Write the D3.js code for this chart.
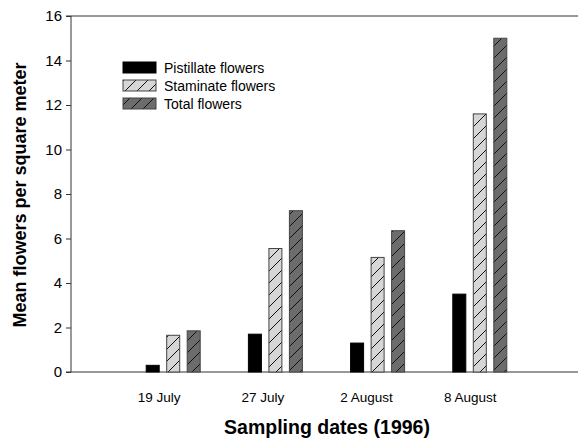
<!DOCTYPE html>
<html>
<head>
<meta charset="utf-8">
<script src="https://cdn.jsdelivr.net/npm/d3@7"></script>
<style>
  body { margin: 0; background: #fff; }
  text { font-family: Arial, "Liberation Sans", sans-serif; fill: #000; }
</style>
</head>
<body>
<div id="chart"></div>
<script>
// data
var dates = ["19 July", "27 July", "2 August", "8 August"];
var pistillate = [0.3, 1.7, 1.3, 3.5];
var staminate = [1.65, 5.55, 5.15, 11.6];
var total = [1.85, 7.25, 6.35, 15.0];
var seriesNames = ["Pistillate flowers", "Staminate flowers", "Total flowers"];
var yTicks = [0, 2, 4, 6, 8, 10, 12, 14, 16];

var svgWidth = 578;
var svgHeight = 438;

var svg = d3.select("#chart")
  .append("svg")
  .attr("width", svgWidth)
  .attr("height", svgHeight);

// hatching patterns
var defs = svg.append("defs");
function hatch(id, fill) {
  var p = defs.append("pattern")
    .attr("id", id)
    .attr("patternUnits", "userSpaceOnUse")
    .attr("width", 12)
    .attr("height", 12);
  p.append("rect").attr("width", 12).attr("height", 12).attr("fill", fill);
  p.append("path")
    .attr("d", "M-1,13 L13,-1 M-3,3 L3,-3 M9,15 L15,9")
    .attr("stroke", "#111")
    .attr("stroke-width", 1);
}
hatch("hatchLight", "#d6d6d6");
hatch("hatchDark", "#6c6c6c");

var fills = ["#000", "url(#hatchLight)", "url(#hatchDark)"];

// scales
var x = d3.scaleLinear().domain([0, 5]).range([71, 582]);
var y = d3.scaleLinear().domain([0, 16]).range([372, 16]);

var barW = 13;
var gap = 20.5;

// y axis
var yAxis = d3.axisLeft(y).tickValues(yTicks).tickSize(5).tickPadding(4);
var gy = svg.append("g")
  .attr("transform", "translate(71,0)")
  .attr("font-size", 15)
  .call(yAxis);
gy.select(".domain").attr("stroke", "#333").attr("d", "M-5,16H0V372H-5");
gy.selectAll(".tick line").attr("stroke", "#333");
gy.selectAll(".tick text").style("font-size", "15px").attr("fill", "#000");

// top line and bottom axis line
svg.append("line")
  .attr("x1", 71).attr("x2", svgWidth)
  .attr("y1", y(16)).attr("y2", y(16))
  .attr("stroke", "#333");
svg.append("line")
  .attr("x1", 71).attr("x2", svgWidth)
  .attr("y1", y(0)).attr("y2", y(0))
  .attr("stroke", "#333");

// bars
var allSeries = [pistillate, staminate, total];
allSeries.forEach(function(vals, s) {
  svg.append("g")
    .selectAll("rect")
    .data(vals)
    .enter()
    .append("rect")
    .attr("x", function(d, i) { return x(i + 1) + (s - 1) * gap - barW / 2; })
    .attr("y", function(d) { return y(d); })
    .attr("width", barW)
    .attr("height", function(d) { return y(0) - y(d); })
    .attr("fill", fills[s])
    .attr("stroke", s === 0 ? "#000" : "#444")
    .attr("stroke-width", 1);
});

// x labels
svg.append("g")
  .selectAll("text")
  .data(dates)
  .enter()
  .append("text")
  .attr("x", function(d, i) { return x(i + 1) - 14 + i * 1.5; })
  .attr("y", 402)
  .attr("text-anchor", "middle")
  .style("font-size", "13.5px")
  .text(function(d) { return d; });

// axis titles
svg.append("text")
  .attr("x", 327)
  .attr("y", 434)
  .attr("text-anchor", "middle")
  .style("font-size", "19.5px")
  .style("font-weight", "bold")
  .text("Sampling dates (1996)");

svg.append("text")
  .attr("transform", "translate(26,195) rotate(-90)")
  .attr("text-anchor", "middle")
  .style("font-size", "18px")
  .style("font-weight", "bold")
  .text("Mean flowers per square meter");

// legend
var legend = svg.append("g");
seriesNames.forEach(function(name, i) {
  legend.append("rect")
    .attr("x", 123)
    .attr("y", 62 + i * 18)
    .attr("width", 33)
    .attr("height", 11)
    .attr("fill", fills[i])
    .attr("stroke", i === 0 ? "#000" : "#444");
  legend.append("text")
    .attr("x", 164)
    .attr("y", 72.5 + i * 18)
    .style("font-size", "14px")
    .text(name);
});
</script>
</body>
</html>
